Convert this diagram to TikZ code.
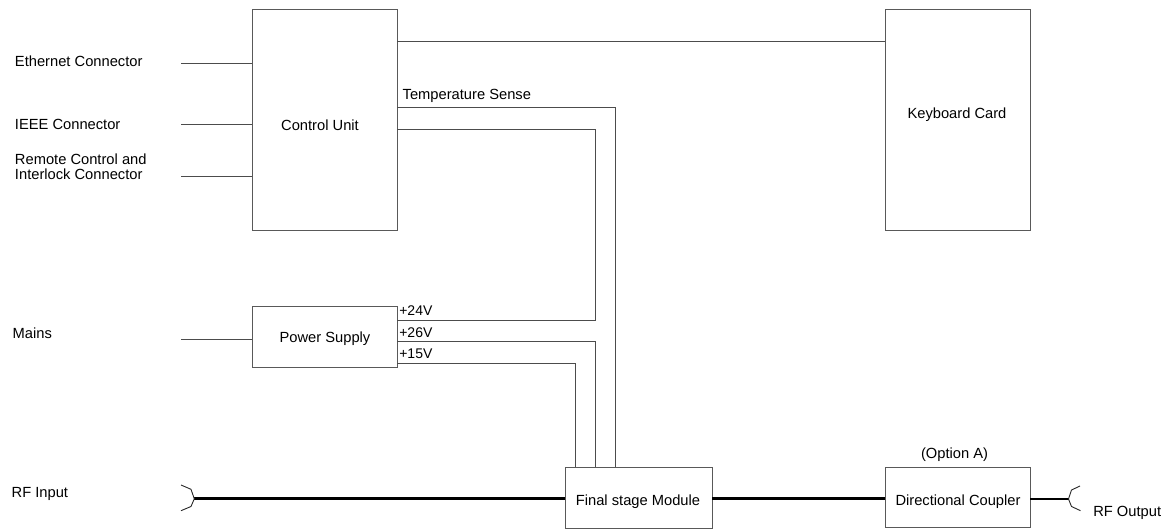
\documentclass[tikz,border=0pt]{standalone}
\usepackage{fontspec}
\setmainfont{Liberation Sans}
\begin{document}
\begin{tikzpicture}[x=1pt,y=-1pt,
  every node/.style={font=\fontsize{14.7}{15}\selectfont, inner sep=0pt, outer sep=0pt},
  blk/.style={draw=black!65, line width=1pt, fill=white},
  wire/.style={draw=black!70, line width=1pt},
  rf/.style={draw=black, line width=2.8pt},
  conn/.style={draw=black!85, line width=0.9pt},
  txt/.style={anchor=base west},
  volt/.style={anchor=base west, font=\fontsize{14}{15}\selectfont}]
\useasboundingbox (0,0) rectangle (1176,529);

% blocks
\node[blk, minimum width=145, minimum height=221] (cu) at (324.5,120.5) {};
\node[anchor=base] (cut) at (320,131) {Control Unit};
\node[blk, minimum width=145, minimum height=221] (kb) at (957.5,120.5) {};
\node[anchor=base] (kbt) at (957,119) {Keyboard Card};
\node[blk, minimum width=145, minimum height=61.3] (ps) at (324.5,336.7) {};
\node[anchor=base] (pst) at (325,342.7) {Power Supply};
\node[blk, minimum width=147, minimum height=61] (fs) at (638.5,497.8) {};
\node[anchor=base] (fst) at (638,505) {Final stage Module};
\node[blk, minimum width=145, minimum height=60.3] (dc) at (957.5,497.8) {};
\node[anchor=base] (dct) at (958,505) {Directional Coupler};
\node[anchor=base] (opt) at (954.5,458.3) {(Option A)};

% left labels
\node[txt] (eth) at (15,66.7) {Ethernet Connector};
\node[txt] (ieee) at (15,129.7) {IEEE Connector};
\node[txt, align=left] (rem) at (15,180) {Remote Control and\\Interlock Connector};
\node[txt] (mains) at (12.7,338.3) {Mains};
\node[txt] (rfin) at (11.7,497.3) {RF Input};
\node[txt] (rfout) at (1093.3,516.7) {RF Output};

% free ends
\coordinate (ethE) at (181,63.3);
\coordinate (ieeeE) at (181,125);
\coordinate (remE) at (181,176.7);
\coordinate (mainsE) at (181,340);

\draw[wire] (ethE) -- (ethE -| cu.west);
\draw[wire] (ieeeE) -- (ieeeE -| cu.west);
\draw[wire] (remE) -- (remE -| cu.west);
\draw[wire] (mainsE) -- (mainsE -| ps.west);

% control unit to keyboard
\coordinate (k1) at (397,42);
\draw[wire] (k1 -| cu.east) -- (k1 -| kb.west);

% temperature sense
\coordinate (t1) at (615,107.7);
\draw[wire] (t1 -| cu.east) -- (t1) -- (t1 |- fs.north);
\node[txt] (tst) at (402.7,99.3) {Temperature Sense};

% control unit to +24V
\coordinate (c1) at (595,129.3);
\coordinate (c2) at (595,320.3);
\draw[wire] (c1 -| cu.east) -- (c1) -- (c2) -- (c2 -| ps.east);

% +26V
\coordinate (p26) at (595,342);
\draw[wire] (p26 -| ps.east) -- (p26) -- (p26 |- fs.north);
% +15V
\coordinate (p15) at (575,363.3);
\draw[wire] (p15 -| ps.east) -- (p15) -- (p15 |- fs.north);

\node[volt] (v24) at (399.3,316) {+24V};
\node[volt] (v26) at (399.3,337.3) {+26V};
\node[volt] (v15) at (399.3,359) {+15V};

% RF path
\coordinate (rfinTip) at (194.3,498.8);
\coordinate (rfoutTip) at (1068.5,499);
\draw[rf] (rfinTip) -- (rfinTip -| fs.west);
\draw[rf] (fs.east |- 0,498.8) -- (dc.west |- 0,498.8);
\draw[rf] (dc.east |- 0,499) -- (rfoutTip);

% connectors
\draw[conn] (181,485) -- (191,489.3) -- (rfinTip) -- (191,506.5) -- (181,510.7);
\draw[conn] (1080,486) -- (1071.5,490) -- (rfoutTip) -- (1071.5,506.5) -- (1080.5,510.7);
\end{tikzpicture}
\end{document}
